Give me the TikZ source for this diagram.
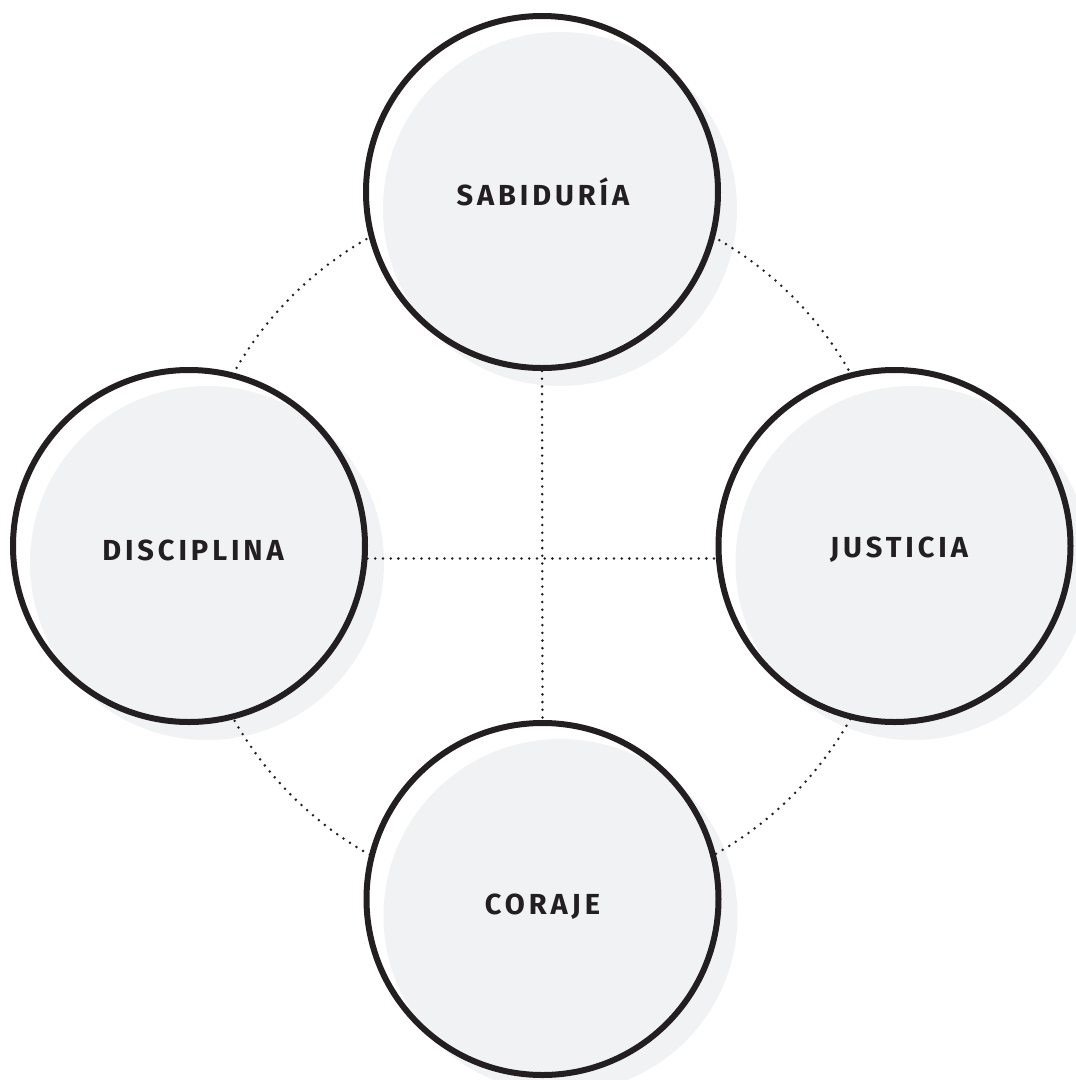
\documentclass[tikz,border=0pt]{standalone}
\usepackage{fontspec}
\setmainfont{Fira Sans}
\newfontfamily\labelfont{Fira Sans}[LetterSpace=13.5]
\usetikzlibrary{calc}
\definecolor{ink}{HTML}{231F20}
\definecolor{softgray}{HTML}{F1F2F4}
\pgfdeclarelayer{bg}
\pgfsetlayers{bg,main}
\begin{document}
\begin{tikzpicture}[x=1pt,y=-1pt,
  ring/.style={circle, draw=ink, line width=6pt, fill=white, minimum size=352pt, inner sep=0pt,
    path picture={\fill[softgray] ([xshift=18pt,yshift=-17pt]path picture bounding box.center) circle[radius=177pt];}},
  shadowdisc/.style={fill=softgray},
  dotline/.style={draw=ink, line width=2.8pt, line cap=round, dash pattern=on 0pt off 7.7pt},
  lbl/.style={text=ink, inner sep=0pt, font=\labelfont\fontsize{29}{29}\selectfont\bfseries}]
\useasboundingbox (0,0) rectangle (1076,1080);
\clip (0,0) rectangle (1076,1080);
\coordinate (O) at (542,546);
\node[ring] (sab) at (542,192) {};
\node[ring] (dis) at (189,546) {};
\node[ring] (jus) at (894.5,546) {};
\node[ring] (cor) at (542.5,899) {};
\begin{pgfonlayer}{bg}
  \foreach \n in {sab,dis,jus,cor}{
    \fill[shadowdisc] ($(\n.center)+(18,17)$) circle[radius=177pt];
  }
  \draw[dotline] (O) circle[radius=353.5pt];
  \draw[dotline] (sab.south) -- (cor.north);
  \draw[dotline] (dis.-4.9) -- (jus.184.9);
\end{pgfonlayer}
\node[lbl] (tsab) at (543,192) {SABIDURÍA};
\node[lbl] (tdis) at (193,550) {DISCIPLINA};
\node[lbl] (tjus) at (899,550) {JUSTICIA};
\node[lbl] (tcor) at (542.5,907) {CORAJE};
\end{tikzpicture}
\end{document}
